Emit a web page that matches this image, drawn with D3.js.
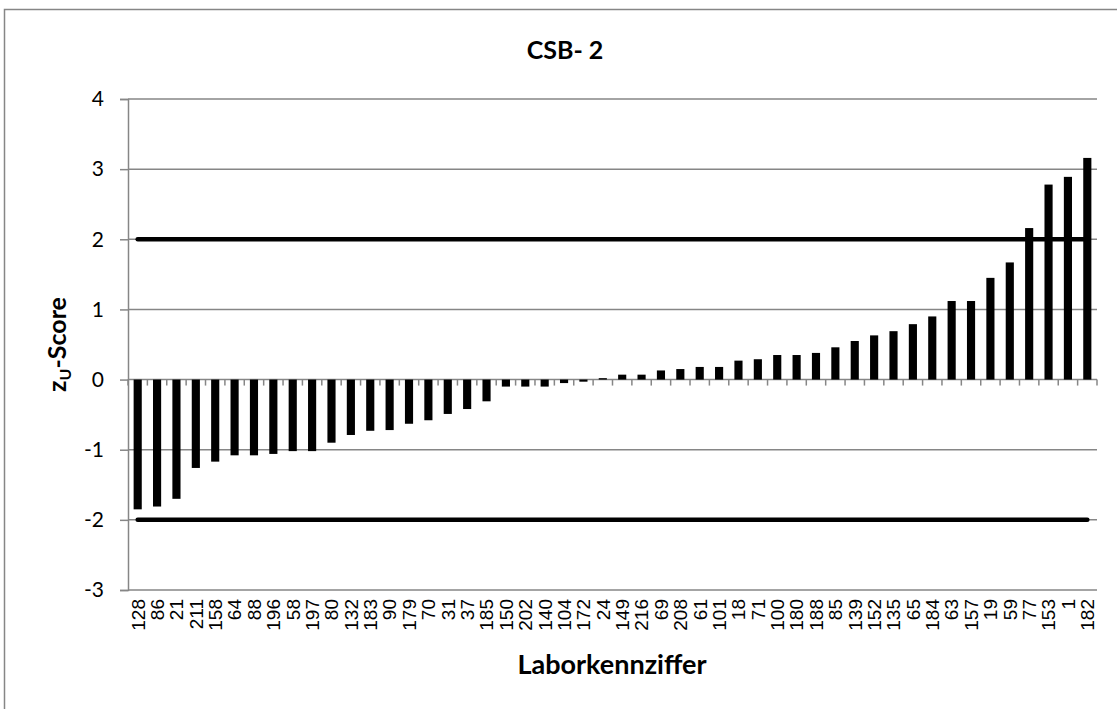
<!DOCTYPE html>
<html>
<head>
<meta charset="utf-8">
<script src="https://cdn.jsdelivr.net/npm/d3@7"></script>
<style>
  body { margin: 0; background: #fff; }
  svg { display: block; }
</style>
</head>
<body>
<div id="chart"></div>
<script>
// lab codes, sorted by score
var labs = ["128", "86", "21", "211", "158", "64", "88", "196", "58", "197",
   "80", "132", "183", "90", "179", "70", "31", "37", "185", "150",
   "202", "140", "104", "172", "24", "149", "216", "69", "208", "61",
   "101", "18", "71", "100", "180", "188", "85", "139", "152", "135",
   "65", "184", "63", "157", "19", "59", "77", "153", "1", "182"];

var zScores = [-1.85, -1.81, -1.70, -1.26, -1.17, -1.08, -1.08, -1.06, -1.02, -1.02,
   -0.90, -0.79, -0.73, -0.72, -0.63, -0.58, -0.49, -0.42, -0.31, -0.10,
   -0.10, -0.10, -0.05, -0.03, 0.02, 0.07, 0.07, 0.13, 0.15, 0.18,
   0.18, 0.27, 0.29, 0.35, 0.35, 0.38, 0.46, 0.55, 0.63, 0.69,
   0.79, 0.90, 1.12, 1.12, 1.45, 1.67, 2.16, 2.78, 2.89, 3.16];

var limits = [2, -2];
var yTicks = [-3, -2, -1, 0, 1, 2, 3, 4];

var width = 1117;
var height = 709;

var margin = {
   top: 99,
   left: 128,
   bottom: 119,
   right: 20
};

var grey = "#868686";
var calibri = "Lato, 'Open Sans', sans-serif";

var svg = d3.select("#chart")
   .append("svg")
   .attr("width", width)
   .attr("height", height);

// chart area border
svg.append("rect")
   .attr("x", 4.5)
   .attr("y", 9.5)
   .attr("width", 1200)
   .attr("height", 800)
   .attr("fill", "none")
   .attr("stroke", grey)
   .attr("stroke-width", 1.5);

var xScale = d3.scaleBand()
   .domain(labs)
   .range([margin.left, width - margin.right])
   .paddingInner(0.58)
   .paddingOuter(0.29);

var xBand = d3.scaleBand()
   .domain(labs)
   .range([margin.left, width - margin.right]);

var yScale = d3.scaleLinear()
   .domain([-3, 4])
   .range([height - margin.bottom, margin.top]);

// gridlines
svg.append("g")
   .selectAll("line")
   .data(yTicks)
   .enter().append("line")
   .attr("x1", margin.left)
   .attr("x2", width - margin.right)
   .attr("y1", function (d) { return yScale(d); })
   .attr("y2", function (d) { return yScale(d); })
   .attr("stroke", grey)
   .attr("stroke-width", 1.5);

var yAxis = d3.axisLeft(yScale)
   .tickValues(yTicks)
   .tickFormat(function (d) { return String(d); })
   .tickSize(8)
   .tickPadding(16);

var gY = svg.append("g")
   .attr("transform", "translate(" + margin.left + ",0)")
   .call(yAxis);

gY.selectAll("line, path").attr("stroke", grey).attr("stroke-width", 1.5);
gY.selectAll("text")
   .attr("font-family", calibri)
   .attr("font-size", 21)
   .attr("fill", "#000");

// x axis sits on zero, ticks at band edges
var zeroY = yScale(0);
svg.append("g")
   .selectAll("line")
   .data(labs.concat(["end"]))
   .enter().append("line")
   .attr("x1", function (d, i) { return margin.left + i * xBand.step(); })
   .attr("x2", function (d, i) { return margin.left + i * xBand.step(); })
   .attr("y1", zeroY)
   .attr("y2", zeroY + 6)
   .attr("stroke", grey)
   .attr("stroke-width", 1.5);

// bars
svg.selectAll(".bar")
   .data(zScores)
   .enter().append("rect")
   .attr("class", "bar")
   .attr("x", function (d, i) { return xScale(labs[i]); })
   .attr("width", xScale.bandwidth())
   .attr("y", function (d) { return yScale(Math.max(0, d)); })
   .attr("height", function (d) { return Math.abs(yScale(d) - yScale(0)); })
   .attr("fill", "#000");

// limit lines at +/-2
var limitLine = d3.line()
   .x(function (d) { return xBand(d.lab) + xBand.bandwidth() / 2; })
   .y(function (d) { return yScale(d.v); });

limits.forEach(function (v) {
   svg.append("path")
      .datum(labs.map(function (l) { return { lab: l, v: v }; }))
      .attr("d", limitLine)
      .attr("fill", "none")
      .attr("stroke", "#000")
      .attr("stroke-width", 4.5)
      .attr("stroke-linecap", "round");
});

// x tick labels
svg.append("g")
   .selectAll("text")
   .data(labs)
   .enter().append("text")
   .attr("transform", function (d) {
      return "translate(" + (xBand(d) + xBand.bandwidth() / 2) + "," + (height - margin.bottom + 9) + ") rotate(-90)";
   })
   .attr("dy", "0.36em")
   .attr("text-anchor", "end")
   .attr("font-family", "'Liberation Sans', Arial, sans-serif")
   .attr("font-size", 19)
   .text(function (d) { return d; });

// titles
svg.append("text")
   .attr("x", 565)
   .attr("y", 59)
   .attr("text-anchor", "middle")
   .attr("font-family", calibri)
   .attr("font-weight", "bold")
   .attr("font-size", 25)
   .text("CSB- 2");

svg.append("text")
   .attr("x", 612)
   .attr("y", 674)
   .attr("text-anchor", "middle")
   .attr("font-family", calibri)
   .attr("font-weight", "bold")
   .attr("font-size", 27)
   .text("Laborkennziffer");

var yTitle = svg.append("text")
   .attr("transform", "translate(66," + yScale(0.5) + ") rotate(-90)")
   .attr("text-anchor", "middle")
   .attr("font-family", calibri)
   .attr("font-weight", "bold")
   .attr("font-size", 25);
yTitle.append("tspan").text("z");
yTitle.append("tspan").attr("font-size", 16).attr("dy", 5).text("U");
yTitle.append("tspan").attr("dy", -5).text("-Score");
</script>
</body>
</html>
